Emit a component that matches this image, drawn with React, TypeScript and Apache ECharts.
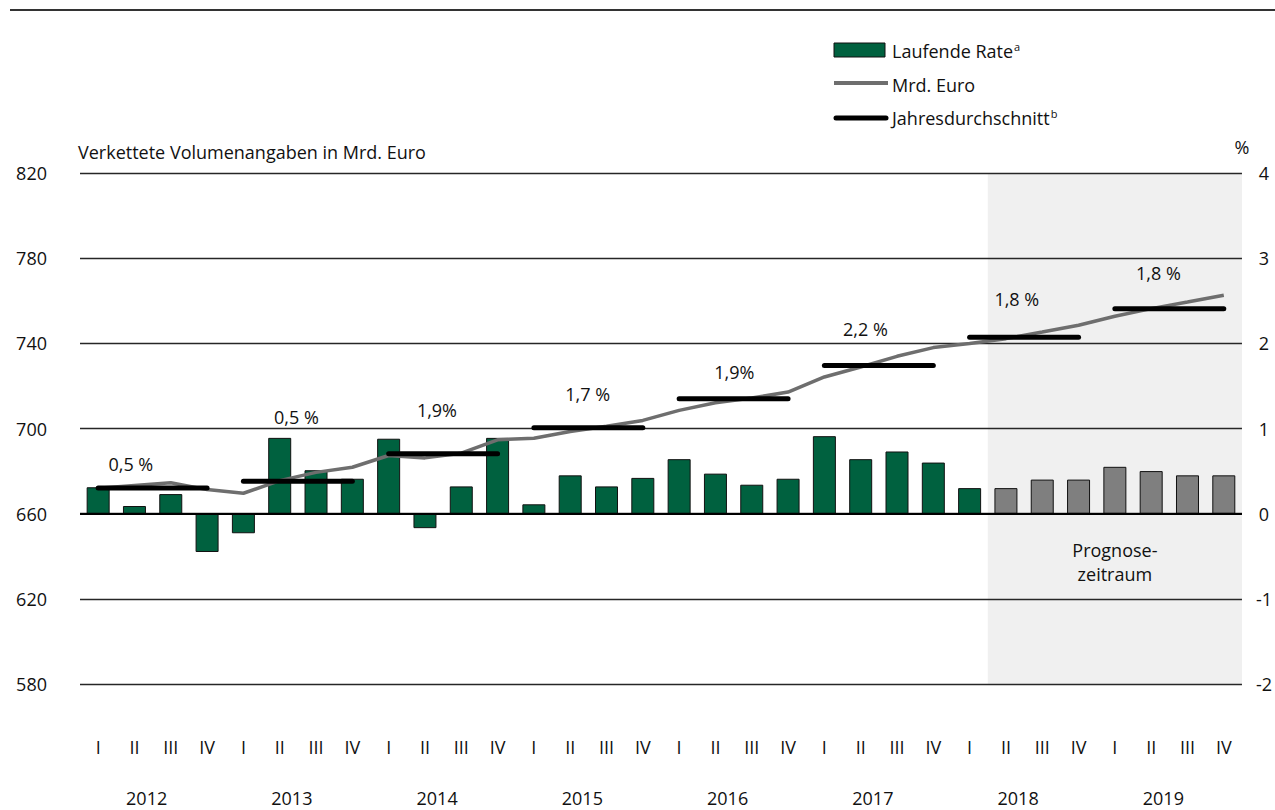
import React, { useEffect, useRef } from 'react';
import * as echarts from 'echarts';

const FONT = '"Open Sans", "Noto Sans", sans-serif';

const years = ['2012', '2013', '2014', '2015', '2016', '2017', '2018', '2019'];
const quarterNames = ['I', 'II', 'III', 'IV'];

// Laufende Rate (%), right axis
const laufendeRate = [
  0.31, 0.09, 0.23, -0.45,
  -0.23, 0.89, 0.51, 0.41,
  0.88, -0.17, 0.32, 0.89,
  0.11, 0.45, 0.32, 0.42,
  0.64, 0.47, 0.34, 0.41,
  0.91, 0.64, 0.73, 0.60,
  0.30, 0.30, 0.40, 0.40,
  0.55, 0.50, 0.45, 0.45,
];

// Mrd. Euro (chained volumes), left axis
const mrdEuro = [
  671.9, 673.2, 674.5, 671.3,
  669.6, 675.5, 679.4, 681.8,
  687.3, 686.2, 688.4, 694.7,
  695.4, 698.6, 701.1, 703.8,
  708.5, 712.1, 714.3, 717.1,
  724.2, 728.9, 733.9, 738.0,
  739.9, 742.2, 745.3, 748.5,
  752.7, 756.3, 759.4, 762.6,
];

// Jahresdurchschnitt (Mrd. Euro level) and growth label per year
const jahresdurchschnitt = [672.0, 675.2, 688.1, 700.3, 714.0, 729.6, 742.8, 756.3];
const jahresLabels = ['0,5 %', '0,5 %', '1,9%', '1,7 %', '1,9%', '2,2 %', '1,8 %', '1,8 %'];
// label anchors in data units (quarter index, Mrd. Euro)
const labelAnchorX = [0.9, 5.46, 9.33, 13.48, 17.52, 21.13, 25.3, 29.2];
const labelAnchorY = [683.5, 705.2, 708.5, 716.0, 726.5, 746.6, 760.7, 773.1];

const forecastStart = 25; // first forecast quarter (II 2018)

const leftAxis = { min: 580, max: 820, interval: 40 };
const rightAxis = { min: -2, max: 4, interval: 1 };

const categories = years.flatMap((y) => quarterNames.map((q) => `${q} ${y}`));

const GREEN = '#00613f';
const GREY_BAR = '#7f7f7f';
const LINE_GREY = '#6e6e6e';
const TEXT = '#111111';
const FS = 18;

function measure(text: string, size: number): number {
  const c = document.createElement('canvas').getContext('2d');
  if (!c) return text.length * size * 0.5;
  c.font = `${size}px ${FONT}`;
  return c.measureText(text).width;
}

export default function App() {
  const ref = useRef<HTMLDivElement>(null);

  useEffect(() => {
    if (!ref.current) return;
    const chart = echarts.init(ref.current, undefined, { renderer: 'svg' });

    const lx = 892;
    const wLaufende = measure('Laufende Rate', FS);
    const wJahres = measure('Jahresdurchschnitt', FS);

    const option: any = {
      animation: false,
      backgroundColor: '#ffffff',
      textStyle: { fontFamily: FONT },
      grid: { left: 80, top: 173, width: 1165, height: 511, containLabel: false },
      xAxis: [
        {
          type: 'category',
          data: categories,
          position: 'bottom',
          axisLine: { show: false, onZero: false },
          axisTick: { show: false },
          splitLine: { show: false },
          axisLabel: {
            interval: 0,
            margin: 54,
            fontSize: FS,
            color: TEXT,
            fontFamily: FONT,
            formatter: (v: string) => v.split(' ')[0],
          },
        },
        {
          type: 'category',
          data: years,
          position: 'bottom',
          axisLine: { show: false, onZero: false },
          axisTick: { show: false },
          splitLine: { show: false },
          axisLabel: {
            interval: 0,
            margin: 105,
            fontSize: FS,
            lineHeight: 18,
            color: TEXT,
            fontFamily: FONT,
            padding: [0, 12, 0, 0],
          },
        },
        { type: 'value', min: -0.5, max: 31.5, show: false },
      ],
      yAxis: [
        {
          type: 'value',
          position: 'left',
          min: leftAxis.min,
          max: leftAxis.max,
          interval: leftAxis.interval,
          axisLine: { show: false },
          axisTick: { show: false },
          axisLabel: { margin: 33, fontSize: FS, color: TEXT, fontFamily: FONT },
          splitLine: { show: true, lineStyle: { color: '#262626', width: 1.3 } },
        },
        {
          type: 'value',
          position: 'right',
          min: rightAxis.min,
          max: rightAxis.max,
          interval: rightAxis.interval,
          axisLine: { show: false },
          axisTick: { show: false },
          axisLabel: { margin: 22, align: 'center', fontSize: FS, color: TEXT, fontFamily: FONT },
          splitLine: { show: false },
        },
      ],
      series: [
        {
          type: 'custom',
          name: 'Prognosezeitraum',
          xAxisIndex: 2,
          yAxisIndex: 0,
          z: -1,
          silent: true,
          data: [[forecastStart - 0.5, categories.length - 0.5]],
          encode: { x: [0, 1] },
          renderItem: (params: any, api: any) => {
            const a = api.coord([api.value(0), leftAxis.max]);
            const b = api.coord([api.value(1), leftAxis.min]);
            const mid = api.coord([(api.value(0) + api.value(1)) / 2, 637.4]);
            return {
              type: 'group',
              children: [
                {
                  type: 'rect',
                  shape: { x: a[0], y: a[1], width: b[0] - a[0], height: b[1] - a[1] },
                  style: { fill: '#f0f0f0' },
                },
                {
                  type: 'text',
                  x: mid[0],
                  y: mid[1],
                  style: {
                    text: 'Prognose-\nzeitraum',
                    fill: TEXT,
                    fontSize: FS,
                    fontFamily: FONT,
                    lineHeight: 24,
                    align: 'center',
                    verticalAlign: 'middle',
                  },
                },
              ],
            };
          },
        },
        {
          type: 'bar',
          name: 'Laufende Rate',
          xAxisIndex: 0,
          yAxisIndex: 1,
          barWidth: 23,
          data: laufendeRate.map((v, i) => ({
            value: v,
            itemStyle: { color: i >= forecastStart ? GREY_BAR : GREEN },
          })),
          itemStyle: { borderColor: '#111111', borderWidth: 1 },
          markLine: {
            silent: true,
            symbol: 'none',
            label: { show: false },
            lineStyle: { color: '#000000', width: 2, type: 'solid' },
            data: [{ yAxis: 0 }],
          },
          z: 2,
        },
        {
          type: 'line',
          name: 'Mrd. Euro',
          xAxisIndex: 0,
          yAxisIndex: 0,
          data: mrdEuro,
          showSymbol: false,
          symbol: 'none',
          lineStyle: { color: LINE_GREY, width: 3.5 },
          z: 3,
        },
        {
          type: 'custom',
          name: 'Jahresdurchschnitt',
          xAxisIndex: 2,
          yAxisIndex: 0,
          z: 4,
          data: years.map((_, i) => [i * 4, i * 4 + 3, jahresdurchschnitt[i], labelAnchorX[i], labelAnchorY[i]]),
          encode: { x: [0, 1, 3], y: [2, 4] },
          renderItem: (params: any, api: any) => {
            const idx = params.dataIndex;
            const p1 = api.coord([api.value(0), api.value(2)]);
            const p2 = api.coord([api.value(1), api.value(2)]);
            const lp = api.coord([api.value(3), api.value(4)]);
            return {
              type: 'group',
              children: [
                {
                  type: 'line',
                  shape: { x1: p1[0], y1: p1[1], x2: p2[0], y2: p2[1] },
                  style: { stroke: '#000000', lineWidth: 5, lineCap: 'round' },
                },
                {
                  type: 'text',
                  x: lp[0],
                  y: lp[1],
                  style: {
                    text: jahresLabels[idx],
                    fill: TEXT,
                    fontSize: FS,
                    fontFamily: FONT,
                    align: 'center',
                    verticalAlign: 'middle',
                  },
                },
              ],
            };
          },
        },
      ],
      graphic: [
        {
          type: 'line',
          shape: { x1: 10, y1: 10, x2: 1275, y2: 10 },
          style: { stroke: '#333333', lineWidth: 2 },
        },
        {
          type: 'text',
          x: 78,
          y: 152,
          style: { text: 'Verkettete Volumenangaben in Mrd. Euro', fill: TEXT, fontSize: FS, fontFamily: FONT, verticalAlign: 'middle' },
        },
        {
          type: 'text',
          x: 1242,
          y: 147,
          style: { text: '%', fill: TEXT, fontSize: FS, fontFamily: FONT, align: 'center', verticalAlign: 'middle' },
        },
        {
          type: 'rect',
          shape: { x: 834, y: 43, width: 51, height: 14 },
          style: { fill: GREEN, stroke: '#111111', lineWidth: 1 },
        },
        {
          type: 'text',
          x: lx,
          y: 51,
          style: { text: 'Laufende Rate', fill: TEXT, fontSize: FS, fontFamily: FONT, verticalAlign: 'middle' },
        },
        {
          type: 'text',
          x: lx + wLaufende + 1,
          y: 46,
          style: { text: 'a', fill: TEXT, fontSize: 11, fontFamily: FONT, verticalAlign: 'middle' },
        },
        {
          type: 'line',
          shape: { x1: 834, y1: 83, x2: 888, y2: 83 },
          style: { stroke: LINE_GREY, lineWidth: 4 },
        },
        {
          type: 'text',
          x: lx,
          y: 85,
          style: { text: 'Mrd. Euro', fill: TEXT, fontSize: FS, fontFamily: FONT, verticalAlign: 'middle' },
        },
        {
          type: 'line',
          shape: { x1: 836, y1: 118, x2: 886, y2: 118 },
          style: { stroke: '#000000', lineWidth: 5, lineCap: 'round' },
        },
        {
          type: 'text',
          x: lx,
          y: 118,
          style: { text: 'Jahresdurchschnitt', fill: TEXT, fontSize: FS, fontFamily: FONT, verticalAlign: 'middle' },
        },
        {
          type: 'text',
          x: lx + wJahres + 1,
          y: 113,
          style: { text: 'b', fill: TEXT, fontSize: 11, fontFamily: FONT, verticalAlign: 'middle' },
        },
      ],
    };

    chart.setOption(option);
    return () => chart.dispose();
  }, []);

  return (
    <div
      ref={ref}
      style={{ position: 'fixed', left: 0, top: 0, width: 1275, height: 810, background: '#fff' }}
    />
  );
}
